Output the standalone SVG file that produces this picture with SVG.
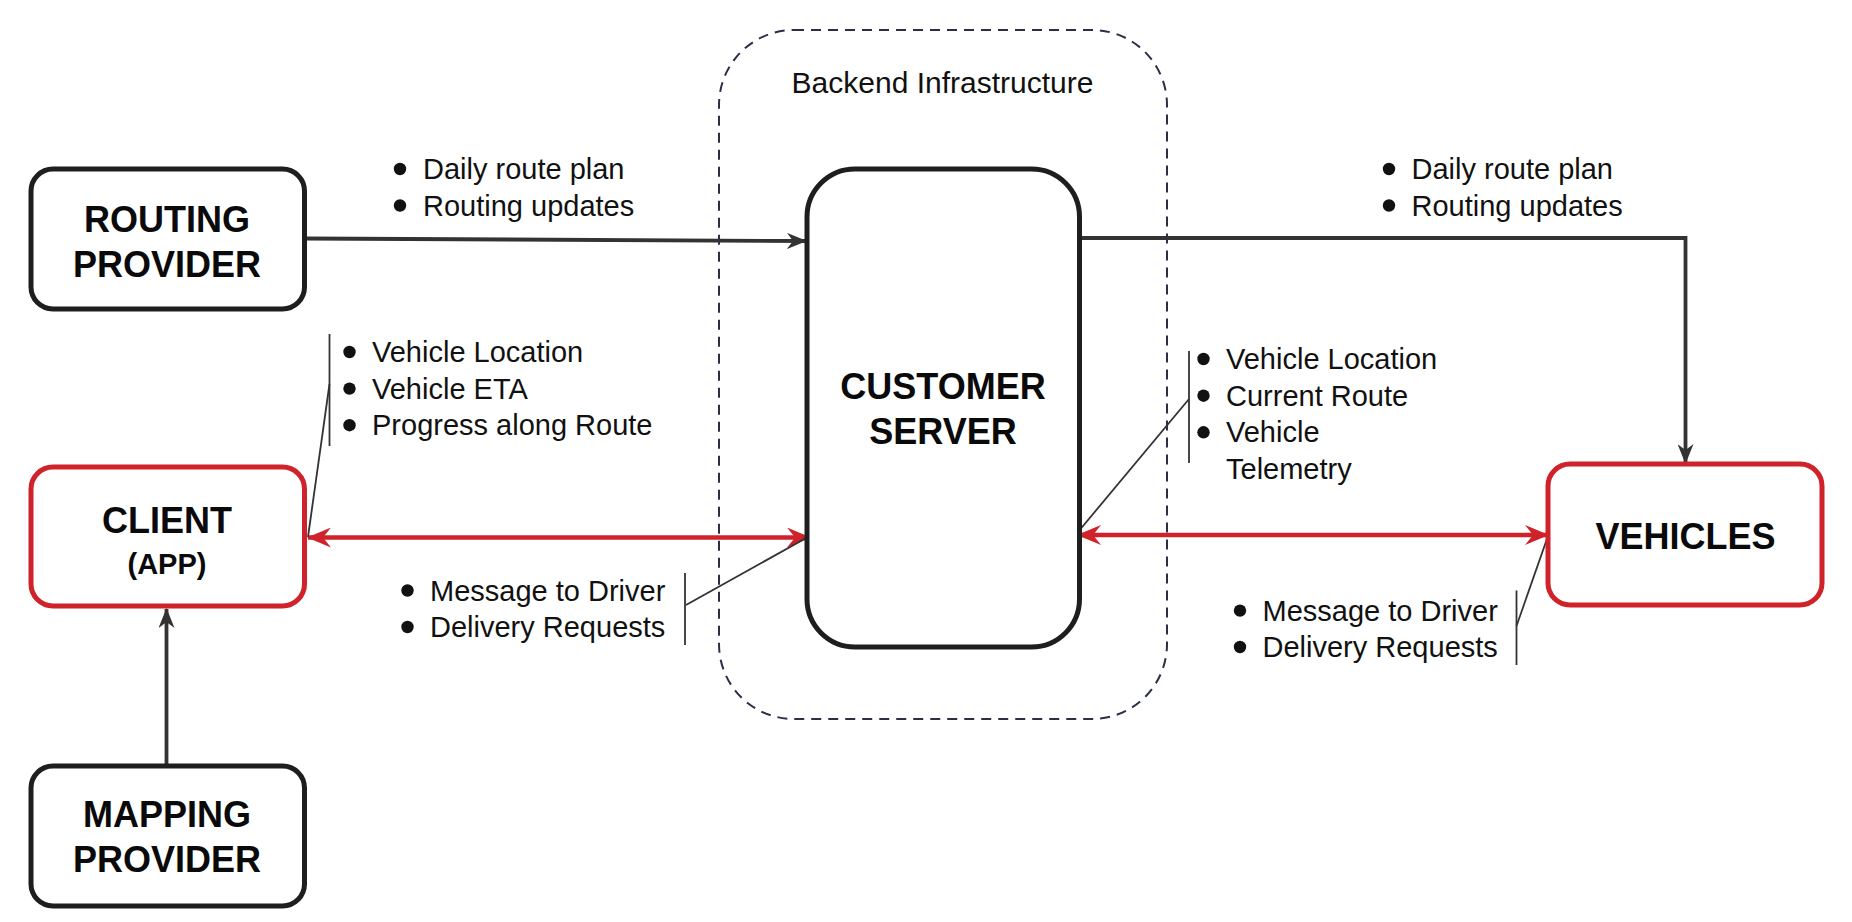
<svg xmlns="http://www.w3.org/2000/svg" width="1852" height="922" viewBox="0 0 1852 922">
<defs>
<style>
.box{fill:#fff;stroke:#1e1e1e;stroke-width:5}
.rbox{fill:#fff;stroke:#d0222a;stroke-width:5}
.title{font-family:"Liberation Sans",Arial,sans-serif;font-weight:bold;font-size:36px;fill:#0a0a0a;text-anchor:middle}
.sub{font-family:"Liberation Sans",Arial,sans-serif;font-weight:bold;font-size:29px;fill:#0a0a0a;text-anchor:middle}
.lbl{font-family:"Liberation Sans",Arial,sans-serif;font-size:29px;fill:#111}
.dot{fill:#111}
.bar{stroke:#333;stroke-width:1.8;fill:none}
.blk{stroke:#333;stroke-width:3.8;fill:none}
.red{stroke:#d0222a;stroke-width:4.5;fill:none}
</style>
<marker id="ah" viewBox="0 0 20 16" refX="19" refY="8" markerWidth="20" markerHeight="16" markerUnits="userSpaceOnUse" orient="auto">
<path d="M0,0 L20,8 L0,16 L6,8 Z" fill="#333"/>
</marker>
<marker id="rh" viewBox="0 0 24 20" refX="23" refY="10" markerWidth="24" markerHeight="20" markerUnits="userSpaceOnUse" orient="auto-start-reverse">
<path d="M0,0 L24,10 L0,20 L8,10 Z" fill="#d0222a"/>
</marker>
</defs>
<rect width="1852" height="922" fill="#fff"/>

<g id="backend">
<rect x="719" y="30" width="448" height="689" rx="75" ry="75" fill="none" stroke="#2a2f45" stroke-width="2" stroke-dasharray="10 7"/>
<text class="lbl" x="942.5" y="93" text-anchor="middle" style="font-size:30px">Backend Infrastructure</text>
</g>

<g id="connectors">
<line class="blk" x1="305" y1="238.5" x2="806" y2="241" marker-end="url(#ah)"/>
<polyline class="blk" points="1077,238 1685.5,238 1685.5,463" marker-end="url(#ah)"/>
<line class="blk" x1="166.5" y1="765" x2="166.5" y2="609" marker-end="url(#ah)"/>
<line class="red" x1="308" y1="537.5" x2="810" y2="537.5" marker-start="url(#rh)" marker-end="url(#rh)"/>
<line class="red" x1="1078" y1="535" x2="1548" y2="535" marker-start="url(#rh)" marker-end="url(#rh)"/>
<line class="bar" x1="329.5" y1="384" x2="308" y2="537"/>
<line class="bar" x1="686" y1="605" x2="808" y2="537"/>
<line class="bar" x1="1189" y1="399" x2="1078" y2="532"/>
<line class="bar" x1="1516.5" y1="626" x2="1548" y2="536"/>
</g>

<g id="routing-provider">
<rect class="box" x="31" y="169" width="273.5" height="140" rx="22"/>
<text class="title" x="167" y="231.5">ROUTING</text>
<text class="title" x="167" y="276.5">PROVIDER</text>
</g>

<g id="client">
<rect class="rbox" x="31" y="467" width="273.5" height="139" rx="22"/>
<text class="title" x="167" y="532.5">CLIENT</text>
<text class="sub" x="167" y="573.5">(APP)</text>
</g>

<g id="mapping-provider">
<rect class="box" x="31" y="766" width="273.5" height="140" rx="22"/>
<text class="title" x="167" y="827">MAPPING</text>
<text class="title" x="167" y="872">PROVIDER</text>
</g>

<g id="customer-server">
<rect class="box" x="807" y="169" width="272.5" height="478" rx="48"/>
<text class="title" x="943" y="399">CUSTOMER</text>
<text class="title" x="943" y="444">SERVER</text>
</g>

<g id="vehicles">
<rect class="rbox" x="1548" y="464" width="274" height="141" rx="22"/>
<text class="title" x="1685.5" y="549">VEHICLES</text>
</g>

<g id="label-routing-in">
<circle class="dot" cx="400" cy="169" r="6.2"/>
<circle class="dot" cx="400" cy="205.5" r="6.2"/>
<text class="lbl" x="423" y="179">Daily route plan</text>
<text class="lbl" x="423" y="215.5">Routing updates</text>
</g>

<g id="label-routing-out">
<circle class="dot" cx="1389" cy="169" r="6.2"/>
<circle class="dot" cx="1389" cy="205.5" r="6.2"/>
<text class="lbl" x="1411.5" y="179">Daily route plan</text>
<text class="lbl" x="1411.5" y="215.5">Routing updates</text>
</g>

<g id="label-client-in">
<line class="bar" x1="329.5" y1="334" x2="329.5" y2="446"/>
<circle class="dot" cx="349.5" cy="352" r="6.2"/>
<circle class="dot" cx="349.5" cy="388.6" r="6.2"/>
<circle class="dot" cx="349.5" cy="425.2" r="6.2"/>
<text class="lbl" x="372" y="362">Vehicle Location</text>
<text class="lbl" x="372" y="398.6">Vehicle ETA</text>
<text class="lbl" x="372" y="435.2">Progress along Route</text>
</g>

<g id="label-client-out">
<line class="bar" x1="685" y1="573" x2="685" y2="645"/>
<circle class="dot" cx="407.5" cy="590.5" r="6.2"/>
<circle class="dot" cx="407.5" cy="627" r="6.2"/>
<text class="lbl" x="430" y="600.5">Message to Driver</text>
<text class="lbl" x="430" y="637">Delivery Requests</text>
</g>

<g id="label-vehicle-in">
<line class="bar" x1="1189" y1="351" x2="1189" y2="463"/>
<circle class="dot" cx="1203.5" cy="359" r="6.2"/>
<circle class="dot" cx="1203.5" cy="395.7" r="6.2"/>
<circle class="dot" cx="1203.5" cy="432.3" r="6.2"/>
<text class="lbl" x="1226" y="369">Vehicle Location</text>
<text class="lbl" x="1226" y="405.7">Current Route</text>
<text class="lbl" x="1226" y="442.3">Vehicle</text>
<text class="lbl" x="1226" y="479">Telemetry</text>
</g>

<g id="label-vehicle-out">
<line class="bar" x1="1516.5" y1="590.5" x2="1516.5" y2="665"/>
<circle class="dot" cx="1240" cy="610.6" r="6.2"/>
<circle class="dot" cx="1240" cy="647" r="6.2"/>
<text class="lbl" x="1262.5" y="620.6">Message to Driver</text>
<text class="lbl" x="1262.5" y="657">Delivery Requests</text>
</g>
</svg>
